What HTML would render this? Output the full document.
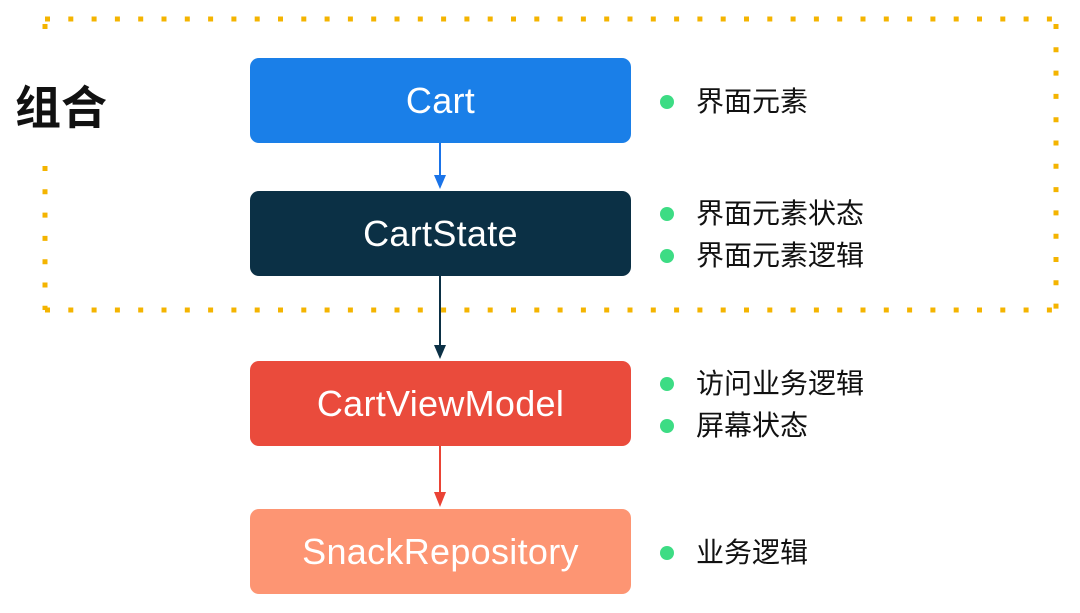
<!DOCTYPE html>
<html><head><meta charset="utf-8"><style>
html,body{margin:0;padding:0;background:#fff;}
body{width:1080px;height:613px;position:relative;overflow:hidden;font-family:"Liberation Sans","Noto Sans CJK SC",sans-serif;}
.box{position:absolute;left:250px;width:381px;height:85px;border-radius:9px;color:#fff;font-size:36px;display:flex;align-items:center;justify-content:center;letter-spacing:0.3px;}
.t{position:absolute;left:696px;font-size:28px;color:#111;line-height:32px;}
.d{position:absolute;left:660px;width:14px;height:14px;border-radius:50%;background:#3ddc84;}
</style></head><body>
<svg width="1080" height="613" style="position:absolute;left:0;top:0">
<g stroke="#f4b400" stroke-width="5" stroke-dasharray="5 18.3" fill="none">
<line x1="45" y1="19" x2="1056" y2="19"/>
<line x1="45" y1="310" x2="1056" y2="310"/>
<line x1="1056" y1="24" x2="1056" y2="310"/>
<line x1="45" y1="24" x2="45" y2="34"/>
<line x1="45" y1="166" x2="45" y2="310"/>
</g>
<line x1="440" y1="143" x2="440" y2="176" stroke="#1a73e8" stroke-width="2"/>
<polygon points="434,175 446,175 440,189" fill="#1a73e8"/>
<line x1="440" y1="276" x2="440" y2="346" stroke="#0b3045" stroke-width="2"/>
<polygon points="434,345 446,345 440,359" fill="#0b3045"/>
<line x1="440" y1="446" x2="440" y2="494" stroke="#ea4335" stroke-width="2"/>
<polygon points="434,492 446,492 440,507" fill="#ea4335"/>
</svg>
<div style="position:absolute;left:15px;top:80px;font-size:46px;font-weight:bold;color:#111;line-height:56px;">组合</div>
<div class="box" style="top:58px;background:#1a7fe8;">Cart</div>
<div class="box" style="top:191px;background:#0b3045;">CartState</div>
<div class="box" style="top:361px;background:#ea4b3c;">CartViewModel</div>
<div class="box" style="top:509px;background:#fd9573;">SnackRepository</div>
<div class="d" style="top:95px"></div><div class="t" style="top:86px">界面元素</div>
<div class="d" style="top:207px"></div><div class="t" style="top:198px">界面元素状态</div>
<div class="d" style="top:249px"></div><div class="t" style="top:240px">界面元素逻辑</div>
<div class="d" style="top:377px"></div><div class="t" style="top:368px">访问业务逻辑</div>
<div class="d" style="top:419px"></div><div class="t" style="top:410px">屏幕状态</div>
<div class="d" style="top:546px"></div><div class="t" style="top:537px">业务逻辑</div>
</body></html>
